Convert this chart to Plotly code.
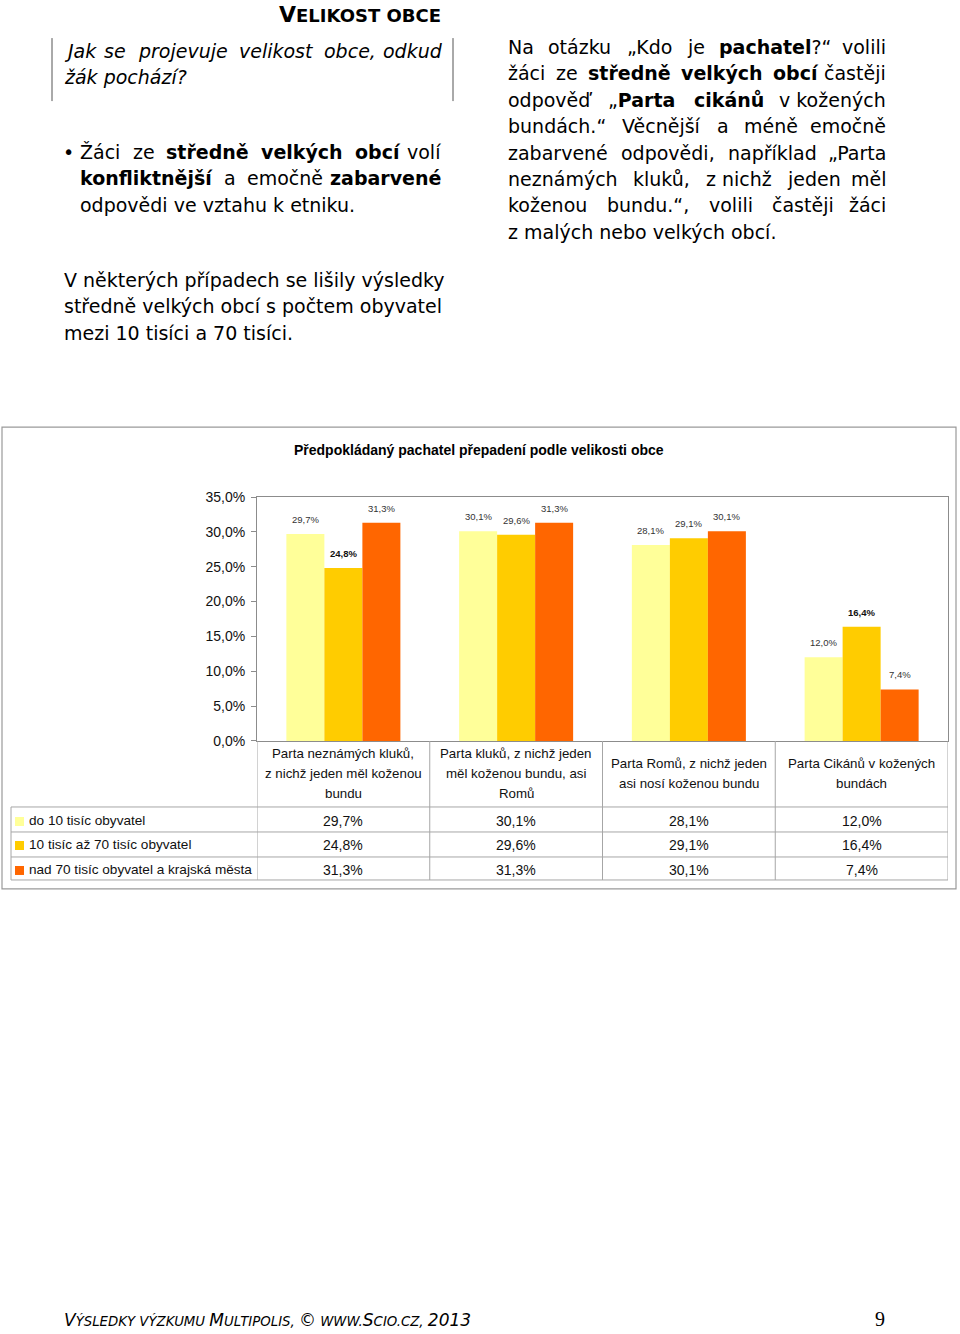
import unicodedata
import plotly.graph_objects as go

W, H = 960, 1334

# ---------------- data ----------------
categories = [
    "Parta neznámých kluků,<br>z nichž jeden měl koženou<br>bundu",
    "Parta kluků, z nichž jeden<br>měl koženou bundu, asi<br>Romů",
    "Parta Romů, z nichž jeden<br>asi nosí koženou bundu",
    "Parta Cikánů v kožených<br>bundách",
]
series_names = [
    "do 10 tisíc obyvatel",
    "10 tisíc až 70 tisíc obyvatel",
    "nad 70 tisíc obyvatel a krajská města",
]
share_small = [29.7, 30.1, 28.1, 12.0]
share_medium = [24.8, 29.6, 29.1, 16.4]
share_large = [31.3, 31.3, 30.1, 7.4]
y_ticks = [0, 5, 10, 15, 20, 25, 30, 35]
bold_labels = {(1, 0), (1, 3)}  # (series, category) labels shown in bold

chart_title = "Předpokládaný pachatel přepadení podle velikosti obce"

# ---------------- text of the page ----------------
right_lines = [
    (["Na", "otázku", "„Kdo", "je", "<b>pachatel</b>?“", "volili"], True),
    (["žáci", "ze", "<b>středně</b>", "<b>velkých</b>", "<b>obcí</b>", "častěji"], True),
    (["odpověď", "„<b>Parta</b>", "<b>cikánů</b>", "v kožených"], True),
    (["bundách.“", "Věcnější", "a", "méně", "emočně"], True),
    (["zabarvené", "odpovědi,", "například", "„Parta"], True),
    (["neznámých", "kluků,", "z nichž", "jeden", "měl"], True),
    (["koženou", "bundu.“,", "volili", "častěji", "žáci"], True),
    (["z", "malých", "nebo", "velkých", "obcí."], False),
]
question_lines = [
    (["Jak", "se", "projevuje", "velikost", "obce,", "odkud"], True),
    (["žák", "pochází?"], False),
]
bullet_lines = [
    (["Žáci", "ze", "<b>středně</b>", "<b>velkých</b>", "<b>obcí</b>", "volí"], True),
    (["<b>konfliktnější</b>", "a", "emočně", "<b>zabarvené</b>"], True),
    (["odpovědi", "ve", "vztahu", "k", "etniku."], False),
]
para_lines = [
    (["V", "některých", "případech", "se", "lišily", "výsledky"], False),
    (["středně", "velkých", "obcí", "s", "počtem", "obyvatel"], False),
    (["mezi", "10", "tisíci", "a", "70", "tisíci."], False),
]

# ---------------- helpers ----------------
BODY = "DejaVu Sans"
CHART = "Liberation Sans"

# the page is photographed slightly squeezed vertically; compensate
V_SCALE = 1334 / 1350
V_OFF = 8 * 1334 / 1350


def px(x):
    return x / W


def py(y):
    return 1 - ((y - V_OFF) / V_SCALE) / H


def fmt(v):
    return f"{v:.1f}".replace(".", ",") + "%"


REG = dict(zip("abcdefghijklmnopqrstuvwxyz",
               [.613, .635, .550, .635, .615, .352, .635, .634, .278, .278, .579, .278, .974,
                .634, .612, .635, .635, .411, .521, .392, .634, .592, .818, .592, .592, .525]))
REG.update(dict(zip("ABCDEFGHIJKLMNOPQRSTUVWXYZ",
                    [.684, .686, .698, .770, .632, .575, .775, .752, .295, .295, .656, .557, .863,
                     .748, .787, .603, .787, .695, .635, .611, .732, .684, .989, .685, .611, .685])))
REG.update({c: .636 for c in "0123456789"})
REG.update({" ": .318, ",": .318, ".": .318, "?": .531, "„": .518, "“": .518})
BOLD = dict(zip("abcdefghijklmnopqrstuvwxyz",
                [.675, .716, .593, .716, .678, .435, .716, .712, .343, .343, .665, .343, 1.042,
                 .712, .687, .716, .716, .493, .595, .478, .712, .652, .924, .645, .652, .582]))
BOLD.update(dict(zip("ABCDEFGHIJKLMNOPQRSTUVWXYZ",
                     [.774, .762, .734, .830, .683, .683, .821, .837, .372, .372, .775, .637, .995,
                      .837, .850, .733, .850, .770, .720, .682, .812, .774, 1.103, .771, .724, .725])))
BOLD.update({" ": .348, ",": .380, ".": .380, "?": .586, "„": .600, "“": .600})


def word_width(word, size):
    total, bold, i = 0.0, False, 0
    while i < len(word):
        if word.startswith("<b>", i):
            bold, i = True, i + 3
            continue
        if word.startswith("</b>", i):
            bold, i = False, i + 4
            continue
        ch = word[i]
        base = unicodedata.normalize("NFD", ch)[0]
        table = BOLD if bold else REG
        total += table.get(ch, table.get(base, .6))
        i += 1
    return total * size


annotations = []


def text_ann(x, y, text, size, family=BODY, xanchor="left", yanchor="middle",
             color="#000000", align="left", xref="paper", yref="paper", yshift=0):
    annotations.append(dict(
        x=x, y=y, xref=xref, yref=yref, text=text, showarrow=False,
        xanchor=xanchor, yanchor=yanchor, align=align, yshift=yshift,
        font=dict(family=family, size=size, color=color)))


def place_block(lines, x_left, x_right, y0, step, size, italic=False):
    for k, (words, justify) in enumerate(lines):
        y = py(y0 + k * step)
        wrap = (lambda s: f"<i>{s}</i>") if italic else (lambda s: s)
        if not justify:
            text_ann(px(x_left), y, wrap(" ".join(words)), size)
            continue
        widths = [word_width(w, size) for w in words]
        gap = (x_right - x_left - sum(widths)) / (len(words) - 1)
        x = x_left
        for i, w in enumerate(words):
            if i == len(words) - 1:
                text_ann(px(x_right), y, wrap(w), size, xanchor="right")
            else:
                text_ann(px(x), y, wrap(w), size)
            x += widths[i] + gap


# ---------------- page text ----------------
text_ann(px(443), py(14),
         '<b><span style="font-size:22px">V</span>ELIKOST OBCE</b>', 18, xanchor="right")
place_block(question_lines, 62, 445, 51, 26.4, 19, italic=True)
text_ann(px(61), py(152), "•", 19)
place_block(bullet_lines, 78, 443, 152, 26.4, 19)
place_block(para_lines, 62, 442, 280, 26.4, 19)
place_block(right_lines, 506, 888, 47, 26.4, 19)

footer = ('<i><span style="font-size:17px">V</span>ÝSLEDKY VÝZKUMU '
          '<span style="font-size:17px">M</span>ULTIPOLIS, '
          '<span style="font-size:17px">©</span> WWW.<span style="font-size:17px">S</span>CIO.CZ, '
          '<span style="font-size:17px">2013</span></i>')
text_ann(px(62), py(1320), footer, 13.3)
text_ann(px(887), py(1319), "9", 20, family="Liberation Serif", xanchor="right")

# ---------------- chart ----------------
BW = 0.22
colors = ["#FFFF99", "#FFCC00", "#FF6600"]
all_series = [share_small, share_medium, share_large]
idx = list(range(len(categories)))

fig = go.Figure()
for s, (vals, col, name) in enumerate(zip(all_series, colors, series_names)):
    xs = [i + (s - 1) * BW for i in idx]
    fig.add_bar(x=xs, y=vals, width=BW, name=name, marker=dict(color=col, line=dict(width=0)),
                showlegend=False, hoverinfo="skip")
    for ci, (xv, v) in enumerate(zip(xs, vals)):
        is_bold = (s, ci) in bold_labels
        text_ann(xv, v, f"<b>{fmt(v)}</b>" if is_bold else fmt(v), 9.5, family=CHART,
                 xanchor="center", yanchor="bottom", color="#111111" if is_bold else "#333333",
                 xref="x", yref="y", yshift=7)

text_ann(px(479), py(450), f"<b>{chart_title}</b>", 14, family=CHART, xanchor="center")

# table header (category labels), one annotation per line, 20 px apart
for i, cat in zip(idx, categories):
    parts = cat.split("<br>")
    first = 774 - (len(parts) - 1) * 10
    for k, part in enumerate(parts):
        text_ann(i, py(first + 20 * k), part, 13.3, family=CHART, xanchor="center",
                 align="center", color="#111111", xref="x")

row_y = [821, 845, 870]
for s, (vals, col, name) in enumerate(zip(all_series, colors, series_names)):
    text_ann(px(27), py(row_y[s]), name, 13.6, family=CHART, color="#111111")
    for i, v in zip(idx, vals):
        text_ann(i, py(row_y[s]), fmt(v), 14, family=CHART, xanchor="center",
                 color="#111111", xref="x")

LINE = "#A6A6A6"
shapes = []
# outer chart frame
shapes.append(dict(type="rect", xref="paper", yref="paper", x0=px(2), x1=px(956),
                   y0=py(889), y1=py(427), line=dict(color="#9A9A9A", width=1.2)))
# column separators in the table header / body
for b in [-0.5, 0.5, 1.5, 2.5, 3.5]:
    shapes.append(dict(type="line", xref="x", yref="paper", x0=b, x1=b,
                       y0=py(880), y1=py(741), line=dict(color=LINE, width=1)))
# table row lines
for yy in [807, 832, 857, 880]:
    shapes.append(dict(type="line", xref="paper", yref="paper", x0=px(11), x1=px(948),
                       y0=py(yy), y1=py(yy), line=dict(color=LINE, width=1)))
shapes.append(dict(type="line", xref="paper", yref="paper", x0=px(11), x1=px(11),
                   y0=py(880), y1=py(807), line=dict(color=LINE, width=1)))
# legend keys
for s, col in enumerate(colors):
    shapes.append(dict(type="rect", xref="paper", yref="paper", x0=px(15), x1=px(24),
                       y0=py(row_y[s] + 5), y1=py(row_y[s] - 4), line=dict(width=0),
                       fillcolor=col))
# vertical rules around the question
for xx in [52, 453]:
    shapes.append(dict(type="line", xref="paper", yref="paper", x0=px(xx), x1=px(xx),
                       y0=py(101), y1=py(38), line=dict(color="#555555", width=1)))

fig.update_layout(
    width=W, height=H, margin=dict(l=0, r=0, t=0, b=0),
    paper_bgcolor="white", plot_bgcolor="white",
    separators=", ",
    barmode="overlay",
    annotations=annotations, shapes=shapes,
    xaxis=dict(domain=[px(257), px(948)], range=[-0.5, 3.5], showticklabels=False,
               showgrid=False, zeroline=False, showline=True, mirror=True,
               linecolor="#8C8C8C", linewidth=1, ticks="", fixedrange=True),
    yaxis=dict(domain=[py(741), py(497)], range=[0, 35], tickvals=y_ticks,
               ticktext=[fmt(t) for t in y_ticks], showgrid=False, zeroline=False,
               showline=True, mirror=True, linecolor="#8C8C8C", linewidth=1,
               ticks="outside", ticklen=5, tickcolor="#8C8C8C", ticklabelstandoff=3,
               tickfont=dict(family=CHART, size=14, color="#111111"), fixedrange=True),
)

fig.write_html("out.html")
